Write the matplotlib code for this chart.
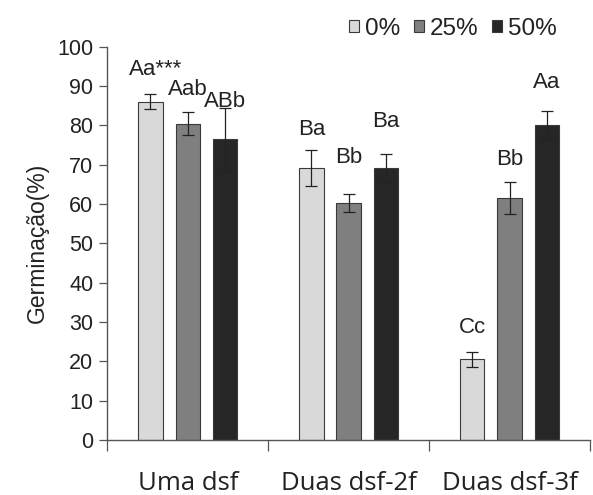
import matplotlib
matplotlib.use("Agg")
import matplotlib.pyplot as plt
import numpy as np

categories = ["Uma dsf", "Duas dsf-2f", "Duas dsf-3f"]
series = ["0%", "25%", "50%"]
values = {
    "0%": [86.0, 69.2, 20.5],
    "25%": [80.4, 60.2, 61.6],
    "50%": [76.4, 69.2, 80.0],
}
errors = {
    "0%": [2.0, 4.6, 2.0],
    "25%": [3.0, 2.2, 4.1],
    "50%": [8.0, 3.5, 3.5],
}
letters = {
    "0%": ["Aa***", "Ba", "Cc"],
    "25%": ["Aab", "Bb", "Bb"],
    "50%": ["ABb", "Ba", "Aa"],
}
colors = {"0%": "#d9d9d9", "25%": "#7f7f7f", "50%": "#262626"}

fig = plt.figure(figsize=(5.93, 4.95), dpi=100)
ax = fig.add_axes([0.181, 0.111, 0.814, 0.795])

x = np.arange(len(categories))
width = 0.152
step = 0.232
label_off = {"0%": [8.1, 9.7, 8.1], "25%": [8.7, 11.6, 9.6], "50%": [9.7, 11.7, 10.8]}
for i, s in enumerate(series):
    pos = x + (i - 1) * step
    ax.bar(pos, values[s], width, color=colors[s], edgecolor="#3a3a3a",
           linewidth=0.8, label=s, zorder=2)
    ax.errorbar(pos, values[s], yerr=errors[s], fmt="none", ecolor="#222222",
                elinewidth=0.9, capsize=4, capthick=0.9, zorder=3)
    for j in range(len(categories)):
        txt = letters[s][j]
        y = values[s][j] + label_off[s][j]
        xx = pos[j]
        ha = "center"
        if txt == "Aa***":
            xx = pos[j] - 0.135
            ha = "left"
        ax.text(xx, y, txt, ha=ha, va="center", fontsize=16,
                family="Liberation Sans", color="#222222")

ax.set_xlim(-0.5, 2.5)
ax.set_ylim(0, 100)
ax.set_yticks(np.arange(0, 101, 10))
ax.tick_params(axis="y", labelsize=15.5, length=6, width=0.9, color="#555555",
               direction="out", pad=4, labelcolor="#222222")
for lab in ax.get_yticklabels():
    lab.set_family("Liberation Sans")
ax.set_xticks([-0.5, 0.5, 1.5, 2.5])
ax.set_xticklabels([])
ax.tick_params(axis="x", which="major", length=8, width=0.9, color="#555555",
               direction="out")
ax.set_xticks(x, minor=True)
ax.set_xticklabels(categories, minor=True, fontsize=18.5, family="Open Sans",
                   color="#222222")
ax.tick_params(axis="x", which="minor", length=0, pad=22)

for sp in ["top", "right"]:
    ax.spines[sp].set_visible(False)
for sp in ["left", "bottom"]:
    ax.spines[sp].set_color("#555555")
    ax.spines[sp].set_linewidth(1.0)

ax.set_ylabel("Germinação(%)", fontsize=16.5, family="Liberation Sans",
              labelpad=6, color="#222222")

leg = ax.legend(loc="center right", bbox_to_anchor=(0.967, 1.045), ncol=3,
                frameon=False, handlelength=0.42, handleheight=0.42,
                handletextpad=0.25, columnspacing=0.55, borderpad=0.2,
                prop={"family": "Liberation Sans", "size": 17.5})
for t in leg.get_texts():
    t.set_color("#222222")

fig.savefig("out.png", dpi=100)
